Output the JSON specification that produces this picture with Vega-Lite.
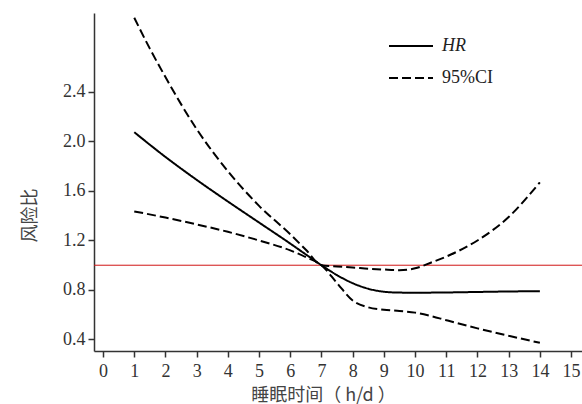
{
  "$schema": "https://vega.github.io/schema/vega-lite/v6.json",
  "width": 488,
  "height": 338,
  "autosize": {"type": "none"},
  "padding": {"left": 94, "top": 13, "right": 0, "bottom": 53},
  "background": "white",
  "config": {
    "view": {"stroke": null},
    "axis": {
      "grid": false,
      "domainColor": "#333333",
      "domainWidth": 1.5,
      "tickColor": "#333333",
      "tickWidth": 1.5,
      "tickSize": 6,
      "labelColor": "#333333",
      "labelFont": "Liberation Serif",
      "labelFontSize": 18,
      "titleColor": "#444444",
      "titleFont": "Noto Sans CJK SC",
      "titleFontSize": 18,
      "titleFontWeight": "normal"
    }
  },
  "layer": [
    {
      "data": {"values": [{"ref": 1.0}]},
      "mark": {"type": "rule", "color": "#d01515", "strokeWidth": 1},
      "encoding": {
        "y": {
          "field": "ref",
          "type": "quantitative",
          "scale": {"domain": [0.307, 3.038], "nice": false, "zero": false},
          "axis": {
            "values": [0.4, 0.8, 1.2, 1.6, 2.0, 2.4],
            "format": ".1f",
            "labelFont": "Liberation Serif",
            "labelFontSize": 18,
            "labelPadding": 3,
            "title": "风险比",
            "titleX": -64,
            "titleY": 202,
            "titleAlign": "center",
            "titleBaseline": "middle",
            "titleAngle": -90
          }
        }
      }
    },
    {
      "data": {
        "values": [
          {"x": 1, "v": 2.075, "series": "HR", "type": "HR"},
          {"x": 2, "v": 1.875, "series": "HR", "type": "HR"},
          {"x": 3, "v": 1.69, "series": "HR", "type": "HR"},
          {"x": 4, "v": 1.515, "series": "HR", "type": "HR"},
          {"x": 5, "v": 1.345, "series": "HR", "type": "HR"},
          {"x": 6, "v": 1.175, "series": "HR", "type": "HR"},
          {"x": 6.5, "v": 1.087, "series": "HR", "type": "HR"},
          {"x": 7, "v": 1.0, "series": "HR", "type": "HR"},
          {"x": 7.5, "v": 0.92, "series": "HR", "type": "HR"},
          {"x": 8, "v": 0.855, "series": "HR", "type": "HR"},
          {"x": 8.5, "v": 0.81, "series": "HR", "type": "HR"},
          {"x": 9, "v": 0.786, "series": "HR", "type": "HR"},
          {"x": 9.5, "v": 0.779, "series": "HR", "type": "HR"},
          {"x": 10, "v": 0.778, "series": "HR", "type": "HR"},
          {"x": 11, "v": 0.78, "series": "HR", "type": "HR"},
          {"x": 12, "v": 0.784, "series": "HR", "type": "HR"},
          {"x": 13, "v": 0.788, "series": "HR", "type": "HR"},
          {"x": 14, "v": 0.79, "series": "HR", "type": "HR"},
          {"x": 1, "v": 1.435, "series": "lower", "type": "95%CI"},
          {"x": 2, "v": 1.385, "series": "lower", "type": "95%CI"},
          {"x": 3, "v": 1.33, "series": "lower", "type": "95%CI"},
          {"x": 4, "v": 1.27, "series": "lower", "type": "95%CI"},
          {"x": 5, "v": 1.2, "series": "lower", "type": "95%CI"},
          {"x": 6, "v": 1.12, "series": "lower", "type": "95%CI"},
          {"x": 6.5, "v": 1.065, "series": "lower", "type": "95%CI"},
          {"x": 7, "v": 1.0, "series": "lower", "type": "95%CI"},
          {"x": 7.5, "v": 0.855, "series": "lower", "type": "95%CI"},
          {"x": 8, "v": 0.715, "series": "lower", "type": "95%CI"},
          {"x": 8.5, "v": 0.66, "series": "lower", "type": "95%CI"},
          {"x": 9, "v": 0.64, "series": "lower", "type": "95%CI"},
          {"x": 9.5, "v": 0.63, "series": "lower", "type": "95%CI"},
          {"x": 10, "v": 0.617, "series": "lower", "type": "95%CI"},
          {"x": 10.5, "v": 0.59, "series": "lower", "type": "95%CI"},
          {"x": 11, "v": 0.556, "series": "lower", "type": "95%CI"},
          {"x": 12, "v": 0.49, "series": "lower", "type": "95%CI"},
          {"x": 13, "v": 0.43, "series": "lower", "type": "95%CI"},
          {"x": 14, "v": 0.373, "series": "lower", "type": "95%CI"},
          {"x": 1, "v": 3.0, "series": "upper", "type": "95%CI"},
          {"x": 1.5, "v": 2.75, "series": "upper", "type": "95%CI"},
          {"x": 2, "v": 2.52, "series": "upper", "type": "95%CI"},
          {"x": 3, "v": 2.1, "series": "upper", "type": "95%CI"},
          {"x": 4, "v": 1.76, "series": "upper", "type": "95%CI"},
          {"x": 5, "v": 1.48, "series": "upper", "type": "95%CI"},
          {"x": 6, "v": 1.25, "series": "upper", "type": "95%CI"},
          {"x": 6.5, "v": 1.125, "series": "upper", "type": "95%CI"},
          {"x": 7, "v": 1.0, "series": "upper", "type": "95%CI"},
          {"x": 7.5, "v": 0.99, "series": "upper", "type": "95%CI"},
          {"x": 8, "v": 0.982, "series": "upper", "type": "95%CI"},
          {"x": 8.5, "v": 0.972, "series": "upper", "type": "95%CI"},
          {"x": 9, "v": 0.965, "series": "upper", "type": "95%CI"},
          {"x": 9.5, "v": 0.96, "series": "upper", "type": "95%CI"},
          {"x": 10, "v": 0.975, "series": "upper", "type": "95%CI"},
          {"x": 10.5, "v": 1.02, "series": "upper", "type": "95%CI"},
          {"x": 11, "v": 1.07, "series": "upper", "type": "95%CI"},
          {"x": 12, "v": 1.2, "series": "upper", "type": "95%CI"},
          {"x": 13, "v": 1.39, "series": "upper", "type": "95%CI"},
          {"x": 14, "v": 1.67, "series": "upper", "type": "95%CI"}
        ]
      },
      "mark": {"type": "line", "interpolate": "monotone", "strokeWidth": 2, "color": "black"},
      "encoding": {
        "x": {
          "field": "x",
          "type": "quantitative",
          "scale": {"domain": [-0.29, 15.35], "nice": false, "zero": false},
          "axis": {
            "values": [0, 1, 2, 3, 4, 5, 6, 7, 8, 9, 10, 11, 12, 13, 14, 15],
            "labelFont": "Liberation Serif",
            "labelFontSize": 18,
            "labelPadding": 5,
            "title": "睡眠时间（ h/d ）",
            "titleX": 229,
            "titleY": 44,
            "titleAlign": "center",
            "titleBaseline": "middle"
          }
        },
        "y": {
          "field": "v",
          "type": "quantitative",
          "scale": {"domain": [0.307, 3.038], "nice": false, "zero": false},
          "axis": {
            "values": [0.4, 0.8, 1.2, 1.6, 2.0, 2.4],
            "format": ".1f",
            "labelFont": "Liberation Serif",
            "labelFontSize": 18,
            "labelPadding": 3,
            "title": "风险比",
            "titleX": -64,
            "titleY": 202,
            "titleAlign": "center",
            "titleBaseline": "middle",
            "titleAngle": -90
          }
        },
        "detail": {"field": "series", "type": "nominal"},
        "strokeDash": {
          "field": "type",
          "type": "nominal",
          "scale": {"domain": ["HR", "95%CI"], "range": [[1, 0], [9, 4]]},
          "legend": {
            "title": null,
            "orient": "none",
            "legendX": 294,
            "legendY": 10,
            "padding": 0,
            "symbolType": "stroke",
            "symbolSize": 1936,
            "symbolStrokeWidth": 2,
            "symbolStrokeColor": "black",
            "labelFont": "Liberation Serif",
            "labelFontSize": 18,
            "labelFontStyle": {"expr": "datum.label == 'HR' ? 'italic' : 'normal'"},
            "labelColor": "#222222",
            "labelOffset": 8,
            "rowPadding": -5
          }
        }
      }
    }
  ]
}
